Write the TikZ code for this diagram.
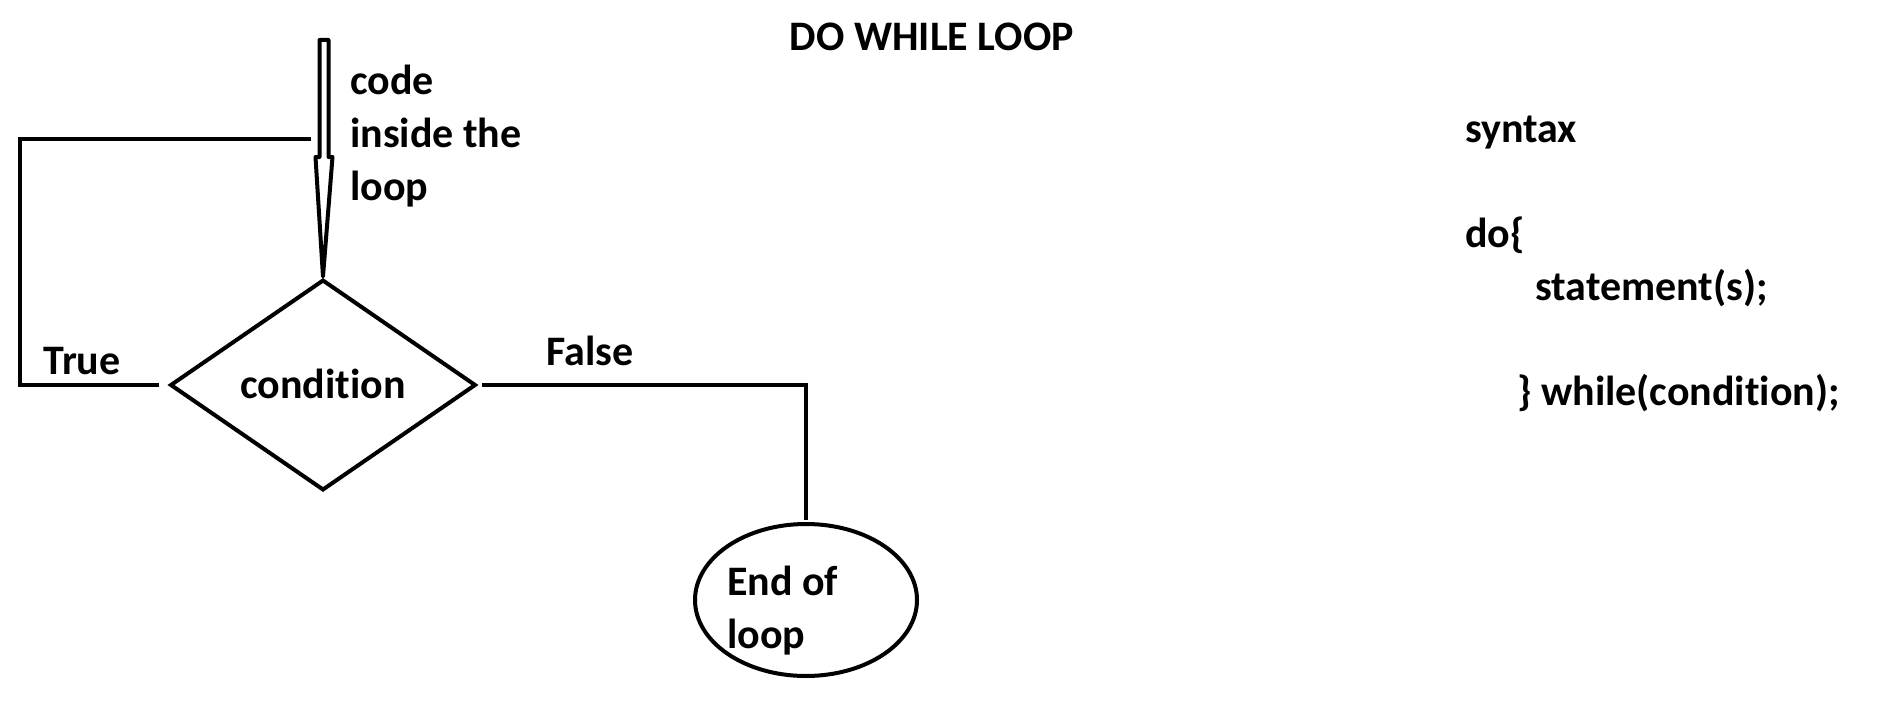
\documentclass[tikz,border=0pt]{standalone}
\usepackage{fontspec}
\setmainfont{Carlito}[Ligatures=NoCommon]
\usetikzlibrary{shapes.geometric,calc}
\begin{document}
\begin{tikzpicture}[x=1pt,y=-1pt,
    txt/.style={font=\fontsize{42}{53}\selectfont\bfseries,inner sep=0pt},
    flow/.style={line width=4.5pt},
    decision/.style={diamond,draw,line width=4pt,minimum width=304pt,minimum height=209pt,inner sep=0pt,outer sep=0pt},
    terminal/.style={ellipse,draw,line width=4pt,minimum width=222pt,minimum height=152pt,inner sep=0pt,outer sep=0pt}]
  \useasboundingbox (0,0) rectangle (1879,725);
  \node[txt] (title) at (932,37) {DO WHILE LOOP};
  \node[decision] (cond) at (323,385) {};
  \node[txt] (condtext) at (323,384) {condition};
  \node[terminal] (end) at (806,600) {};
  \node[txt,align=left,anchor=base west] (endtext) at (727,648) {End of\\loop};
  \node[txt,align=left,anchor=base west] (body) at (350,200) {code\\inside the\\loop};
  \node[txt] (true) at (82,361) {True};
  \node[txt] (false) at (590,351) {False};
  \coordinate (entry) at (324,40);
  \coordinate (corner) at (20,139);
  \coordinate (back) at (311,139);
  % hollow arrow into the condition
  \draw[line width=4pt,line join=round]
    (entry) ++(-4.5,0) -- ++(9,0) -- ++(0,117) -- ++(4,0)
    -- ($(cond.north)+(0,-4)$) -- ($(entry)+(-8.5,117)$) -- ++(4,0) -- cycle;
  \draw[flow,shorten <=12pt] (cond.west) -| (corner) -- (back);
  \draw[flow,shorten <=7pt,shorten >=4pt] (cond.east) -| (end.north);
  % syntax
  \node[txt,anchor=base west] (syntax) at (1465,142) {syntax};
  \node[txt,anchor=base west] (do) at (1465,247) {do\{};
  \node[txt,anchor=base west] (stmt) at (1535,300) {statement(s);};
  \node[txt,anchor=base west] (while) at (1517,405) {\} while(condition);};
\end{tikzpicture}
\end{document}
